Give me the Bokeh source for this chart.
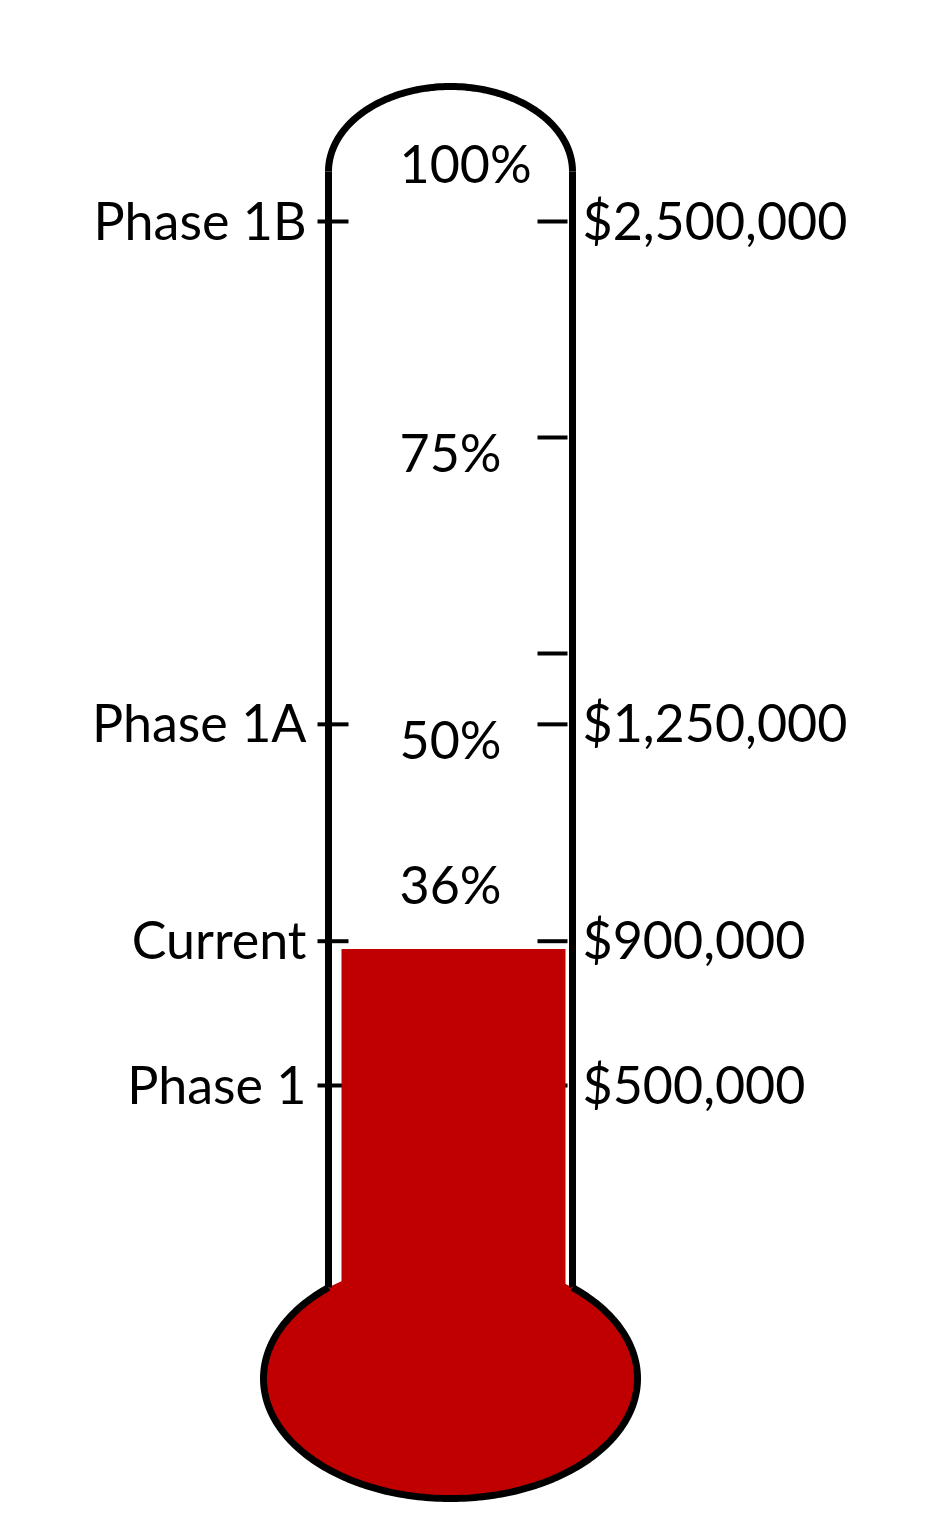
import numpy as np
from bokeh.plotting import figure
from bokeh.models import Range1d
from bokeh.core.properties import value
from bokeh.embed import file_html
from bokeh.resources import INLINE

# ---------------- data ----------------
milestone_labels = ["Phase 1B", "Phase 1A", "Current", "Phase 1"]
milestone_amounts = ["$2,500,000", "$1,250,000", "$900,000", "$500,000"]
# gauge level: 0 = Phase 1 line, 100 = Phase 1B line (as drawn)
milestone_levels = [100.0, 41.8, 16.7, 0.0]
minor_tick_levels = [75.0, 50.0]
percent_labels = ["100%", "75%", "50%", "36%"]
percent_label_levels = [106.3, 72.9, 39.6, 22.9]
fill_level = 15.8

# ---------------- layout ----------------
PX_PER_LEVEL = 8.64
ZERO_PX = 1085.0


def lv(px):
    """convert a design pixel row into a gauge level"""
    return (ZERO_PX - px) / PX_PER_LEVEL


W, H = 934, 1516
p = figure(width=W, height=H, output_backend="svg", toolbar_location=None,
           x_range=Range1d(0, W), y_range=Range1d(lv(H), lv(0)),
           min_border=0, outline_line_color=None)
p.axis.visible = False
p.grid.visible = False
p.background_fill_color = "white"
p.border_fill_color = "white"

RED = "#C00000"
FONT = value("Lato")

CX = 450.0
XL, XR = 328.0, 572.0
WALL = 7

# ticks (drawn below the red fill)
right_levels = milestone_levels + minor_tick_levels
p.segment(x0=[537] * len(right_levels), x1=[567] * len(right_levels),
          y0=right_levels, y1=right_levels, line_color="black", line_width=4)
p.segment(x0=[317] * len(milestone_levels), x1=[348] * len(milestone_levels),
          y0=milestone_levels, y1=milestone_levels, line_color="black", line_width=4)

# bulb fill
BULB_CY = lv(1378)
BULB_RX, BULB_RY = 187.0, 120.0
p.ellipse(x=[CX], y=[BULB_CY], width=[2 * BULB_RX], height=[2 * BULB_RY / PX_PER_LEVEL],
          fill_color=RED, line_color=None)

# column of liquid
p.quad(left=[341], right=[565], top=[fill_level], bottom=[lv(1320)],
       fill_color=RED, line_color=None)

# tube walls
th0 = np.degrees(np.arccos((XL - CX) / BULB_RX))  # ~130.7 deg
join_px = 1378 - BULB_RY * np.sin(np.radians(th0))
TOP_CY_PX, TOP_RY = 171.0, 85.0
p.segment(x0=[XL, XR], x1=[XL, XR], y0=[lv(TOP_CY_PX)] * 2, y1=[lv(join_px)] * 2,
          line_color="black", line_width=WALL)

# top cap
t = np.linspace(0, np.pi, 120)
p.line(CX + (XR - CX) * np.cos(t), lv(TOP_CY_PX - TOP_RY * np.sin(t)),
       line_color="black", line_width=WALL)

# bulb outline (outside the tube only)
t2 = np.radians(np.linspace(th0, 360 + (180 - th0), 240))
p.line(CX + BULB_RX * np.cos(t2), lv(1378 - BULB_RY * np.sin(t2)),
       line_color="black", line_width=WALL)

# labels
p.text(x=[306] * 4, y=milestone_levels, text=milestone_labels, text_font=FONT,
       text_font_size="52px", text_align="right", text_baseline="alphabetic",
       y_offset=-2, text_color="black")
p.text(x=[582] * 4, y=milestone_levels, text=milestone_amounts, text_font=FONT,
       text_font_size="52px", text_align="left", text_baseline="alphabetic",
       y_offset=-2, text_color="black")
p.text(x=[399] * 4, y=percent_label_levels, text=percent_labels, text_font=FONT,
       text_font_size="52px", text_align="left", text_baseline="alphabetic",
       y_offset=-4, text_color="black")

open("out.html", "w").write(file_html(p, INLINE))
